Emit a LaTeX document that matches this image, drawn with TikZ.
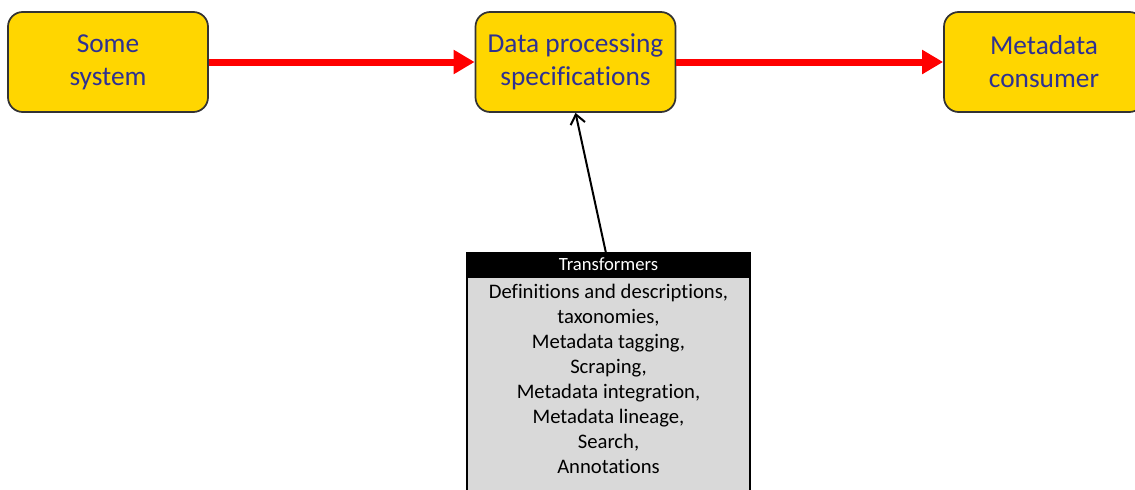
\documentclass[tikz,border=0pt]{standalone}
\usepackage{fontspec}
\setmainfont{Carlito}[RawFeature=-liga]
\usepackage{tikz}
\usetikzlibrary{arrows.meta,positioning}

\definecolor{boxgold}{RGB}{255,214,0}
\definecolor{boxtext}{RGB}{46,49,146}
\definecolor{boxgray}{RGB}{217,217,217}

\begin{document}
\begin{tikzpicture}[x=0.75pt,y=-0.75pt,>=Stealth,
  sysbox/.style={draw=black!80,line width=1.3pt,fill=boxgold,rounded corners=11pt,align=center,
    minimum width=150pt,minimum height=75pt,text=boxtext,font=\fontsize{20.5}{24.75}\selectfont},
  flow/.style={red,line width=5.25pt,-{Triangle[length=15.75pt,width=17.25pt]}},
  feed/.style={black,line width=1.5pt,-{Straight Barb[length=7pt,width=11pt]}}]
\useasboundingbox (0,0) rectangle (1135,489);
\node[sysbox] (source) at (108,62) {Some\\system};
\node[sysbox] (spec) at (575.5,62) {Data processing\\specifications};
\node[sysbox] (consumer) at (1044,62) {Metadata\\consumer};
\node[draw=black,line width=1pt,fill=black,text=white,minimum width=212.25pt,minimum height=17.25pt,inner sep=0pt,
  font=\fontsize{14}{16}\selectfont] (tfhead) at (608.5,264.5) {Transformers};
\node[draw=black,line width=1pt,fill=boxgray,anchor=north,minimum width=212.25pt,align=center,inner ysep=5pt,
  text depth=14pt,font=\fontsize{15.5}{18.75}\selectfont] (tfbody) at (tfhead.south)
  {Definitions and descriptions,\\taxonomies,\\Metadata tagging,\\Scraping,\\Metadata integration,\\Metadata lineage,\\Search,\\Annotations};
\draw[flow] (source) -- (spec);
\draw[flow] (spec) -- (consumer);
\draw[feed] ([xshift=-2pt]tfhead.north) -- (spec.south);
\end{tikzpicture}
\end{document}
